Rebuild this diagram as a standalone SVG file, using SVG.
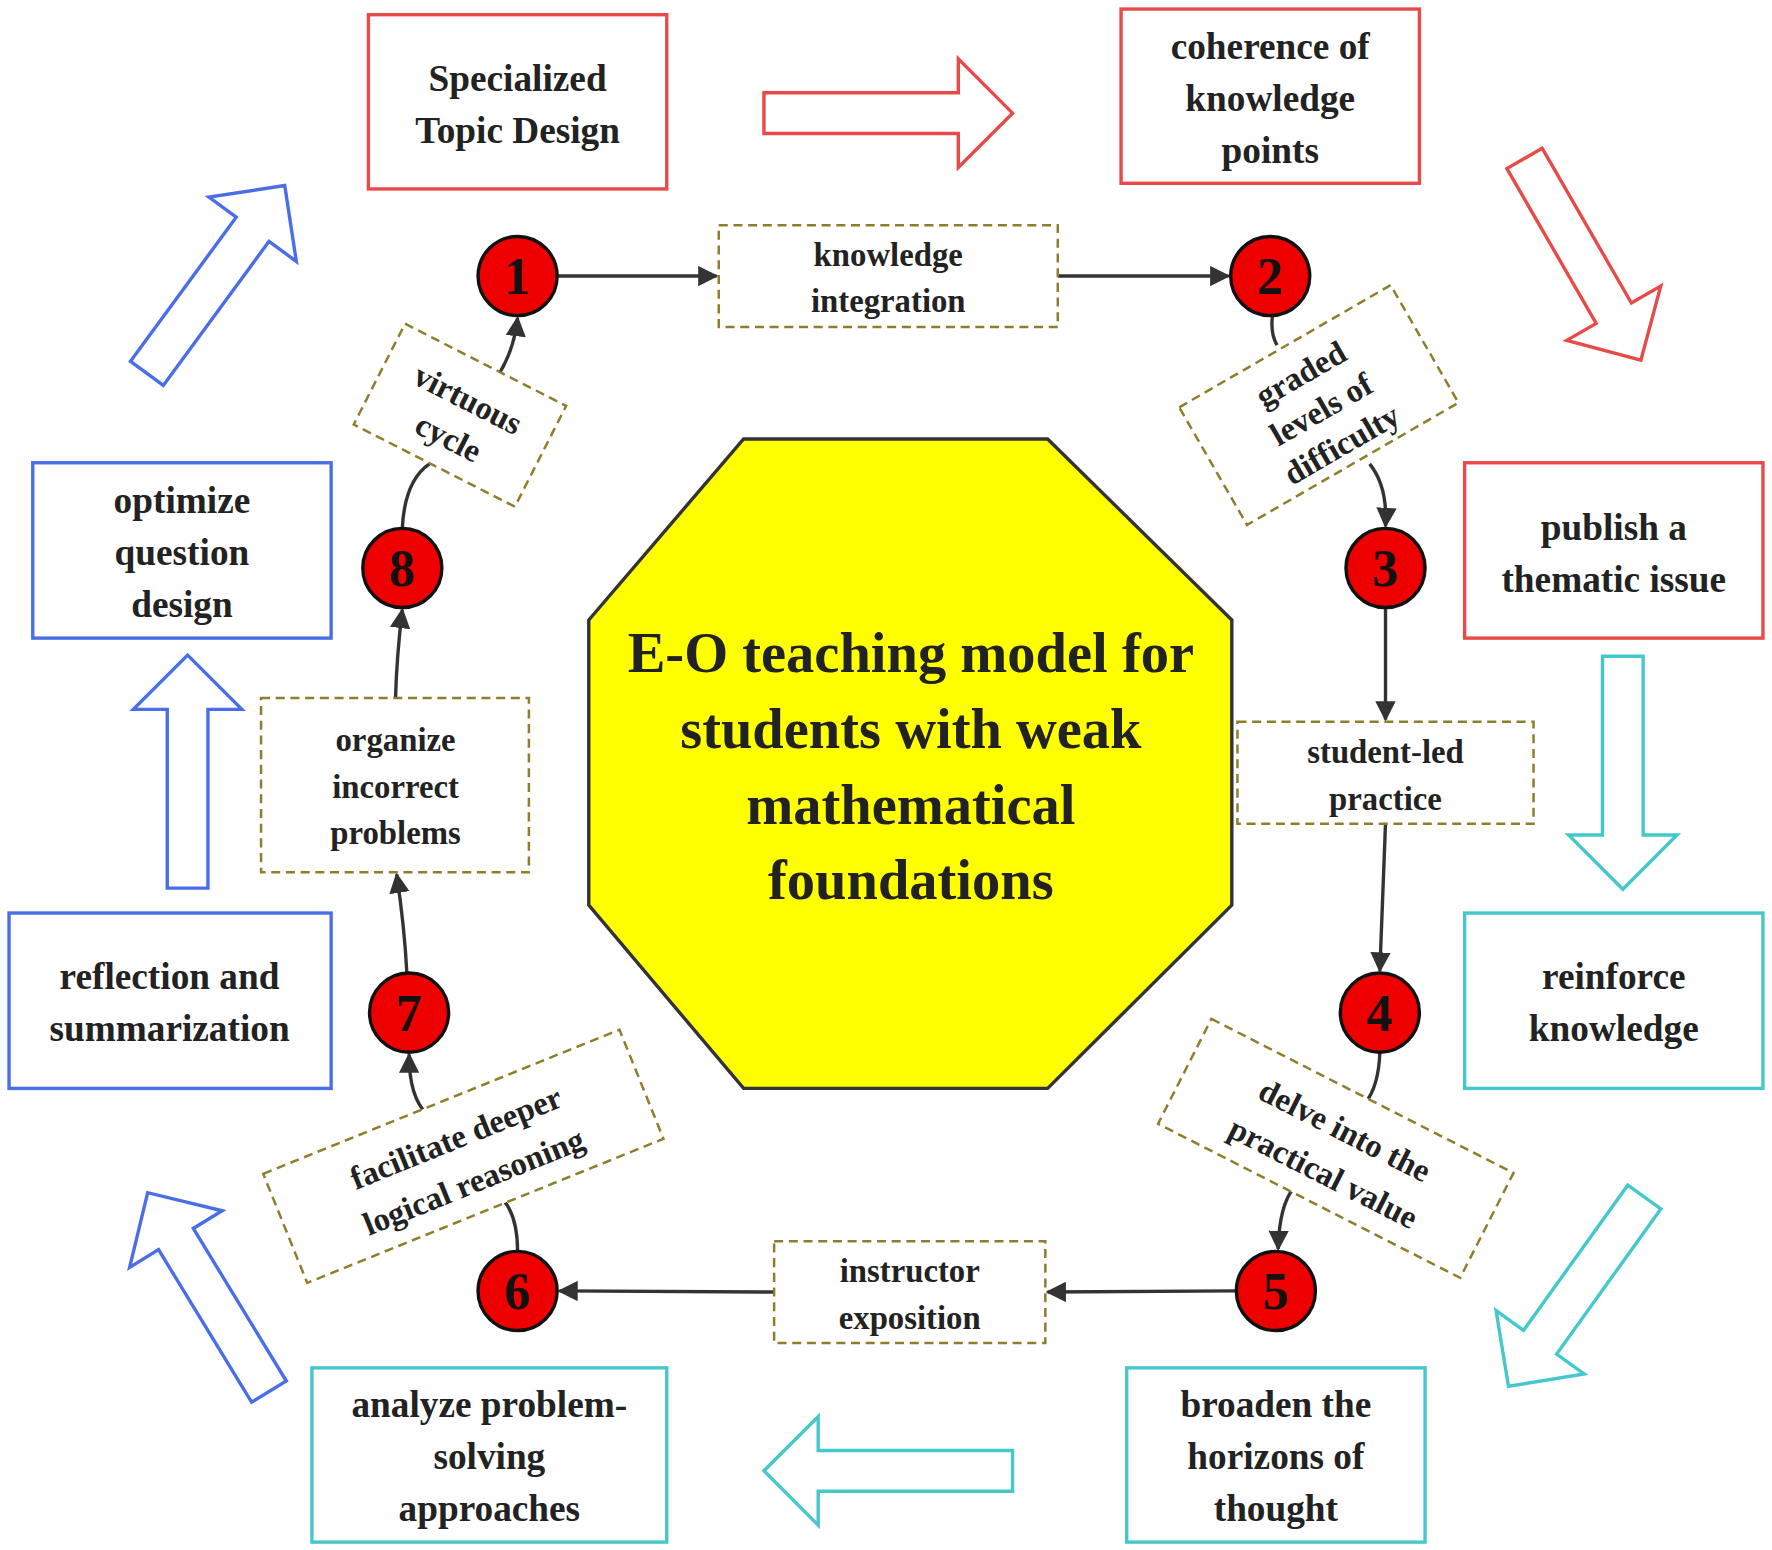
<svg xmlns="http://www.w3.org/2000/svg" width="1772" height="1550" viewBox="0 0 1772 1550">
<style>
text{font-family:"Liberation Serif","Times New Roman",serif;font-weight:bold;fill:#222;text-anchor:middle}
.box{fill:#fff;stroke-width:3}
.red{stroke:#e84a4a}.teal{stroke:#45c8cc}.blue{stroke:#4a6ee8}
.bt{font-size:33px}
.dash{fill:#fff;stroke:#8d7e2c;stroke-width:2.2;stroke-dasharray:8 5}
.dt{font-size:29px}
.circ{fill:#ee0000;stroke:#111;stroke-width:3}
.num{font-size:46px;fill:#111}
.con{fill:none;stroke:#333;stroke-width:3}
.ba{fill:#fff;stroke-width:3}
</style>
<defs>
<marker id="ah" viewBox="0 0 10 10" refX="9" refY="5" markerWidth="6" markerHeight="6" orient="auto"><path d="M0,0 L10,5 L0,10 Z" fill="#333"/></marker>
<path id="bar" d="M0,-18 L172,-18 L172,-48 L220,0 L172,48 L172,18 L0,18 Z"/>
<path id="bar2" d="M0,-18 L158,-18 L158,-48 L206,0 L158,48 L158,18 L0,18 Z"/>
</defs>
<rect width="1772" height="1550" fill="#fff"/>
<g transform="scale(1.1301,1.1314)">
<g id="bigarrows">
<use href="#bar" transform="translate(676,100)" class="ba red"/>
<use href="#bar2" transform="translate(1349,140) rotate(60)" class="ba red"/>
<use href="#bar2" transform="translate(1436,580) rotate(90)" class="ba teal"/>
<use href="#bar2" transform="translate(1455,1058) rotate(125.7)" class="ba teal"/>
<use href="#bar" transform="translate(896,1300) rotate(180)" class="ba teal"/>
<use href="#bar2" transform="translate(238,1230) rotate(-121.4)" class="ba blue"/>
<use href="#bar2" transform="translate(166,785) rotate(-90)" class="ba blue"/>
<use href="#bar2" transform="translate(130,330) rotate(-53.7)" class="ba blue"/>
</g>
<g id="n-spec"><rect class="box red" x="326" y="13" width="264" height="154"/><text class="bt" x="458" y="80">Specialized</text><text class="bt" x="458" y="126">Topic Design</text></g>
<g id="n-coh"><rect class="box red" x="992" y="8" width="264" height="154"/><text class="bt" x="1124" y="52">coherence of</text><text class="bt" x="1124" y="98">knowledge</text><text class="bt" x="1124" y="144">points</text></g>
<g id="n-pub"><rect class="box red" x="1296" y="409" width="264" height="155"/><text class="bt" x="1428" y="477">publish a</text><text class="bt" x="1428" y="523">thematic issue</text></g>
<g id="n-rein"><rect class="box teal" x="1296" y="807" width="264" height="155"/><text class="bt" x="1428" y="874">reinforce</text><text class="bt" x="1428" y="920">knowledge</text></g>
<g id="n-broad"><rect class="box teal" x="997" y="1209" width="264" height="154"/><text class="bt" x="1129" y="1252">broaden the</text><text class="bt" x="1129" y="1298">horizons of</text><text class="bt" x="1129" y="1344">thought</text></g>
<g id="n-anal"><rect class="box teal" x="276" y="1209" width="314" height="154"/><text class="bt" x="433" y="1252">analyze problem-</text><text class="bt" x="433" y="1298">solving</text><text class="bt" x="433" y="1344">approaches</text></g>
<g id="n-refl"><rect class="box blue" x="8" y="807" width="285" height="155"/><text class="bt" x="150" y="874">reflection and</text><text class="bt" x="150" y="920">summarization</text></g>
<g id="n-opt"><rect class="box blue" x="29" y="409" width="264" height="155"/><text class="bt" x="161" y="453">optimize</text><text class="bt" x="161" y="499">question</text><text class="bt" x="161" y="545">design</text></g>
<g id="center"><polygon points="521,548 658,388 927,388 1090,548 1090,800 927,962 658,962 521,800" fill="#ffff00" stroke="#333" stroke-width="3"/>
<text x="806" y="594" font-size="50">E-O teaching model for</text><text x="806" y="661" font-size="50">students with weak</text><text x="806" y="728" font-size="50">mathematical</text><text x="806" y="795" font-size="50">foundations</text></g>
<g id="connectors">
<path class="con" d="M493,244 L634,244" marker-end="url(#ah)"/>
<path class="con" d="M936,244 L1087,244" marker-end="url(#ah)"/>
<path class="con" d="M1126,279 Q1124,295 1130,305"/>
<path class="con" d="M1212,410 Q1228,430 1226,465" marker-end="url(#ah)"/>
<path class="con" d="M1226,537 L1226,636" marker-end="url(#ah)"/>
<path class="con" d="M1226,728 L1221,858" marker-end="url(#ah)"/>
<path class="con" d="M1221,930 Q1220,960 1208,975"/>
<path class="con" d="M1145,1050 Q1132,1065 1131,1104" marker-end="url(#ah)"/>
<path class="con" d="M1094,1141 L927,1142" marker-end="url(#ah)"/>
<path class="con" d="M685,1142 L495,1141" marker-end="url(#ah)"/>
<path class="con" d="M458,1106 Q458,1075 445,1060"/>
<path class="con" d="M378,985 Q362,970 362,932" marker-end="url(#ah)"/>
<path class="con" d="M360,860 Q358,820 351,773" marker-end="url(#ah)"/>
<path class="con" d="M350,617 Q351,580 356,539" marker-end="url(#ah)"/>
<path class="con" d="M356,467 Q358,425 380,410"/>
<path class="con" d="M440,333 Q455,310 458,281" marker-end="url(#ah)"/>
</g>
<g id="l-ki"><rect class="dash" x="636" y="199" width="300" height="90"/><text class="dt" x="786" y="235">knowledge</text><text class="dt" x="786" y="276">integration</text></g>
<g id="l-gr" transform="translate(1167,358) rotate(-30)"><rect class="dash" x="-108" y="-60" width="216" height="120"/><text class="dt" x="0" y="-22">graded</text><text class="dt" x="0" y="14">levels of</text><text class="dt" x="0" y="50">difficulty</text></g>
<g id="l-sl"><rect class="dash" x="1095" y="638" width="262" height="90"/><text class="dt" x="1226" y="674">student-led</text><text class="dt" x="1226" y="716">practice</text></g>
<g id="l-dv" transform="translate(1182,1015) rotate(27)"><rect class="dash" x="-150" y="-52" width="300" height="104"/><text class="dt" x="0" y="-8">delve into the</text><text class="dt" x="0" y="34">practical value</text></g>
<g id="l-ie"><rect class="dash" x="685" y="1097" width="240" height="90"/><text class="dt" x="805" y="1133">instructor</text><text class="dt" x="805" y="1175">exposition</text></g>
<g id="l-fd" transform="translate(410,1022) rotate(-22)"><rect class="dash" x="-170" y="-52" width="340" height="104"/><text class="dt" x="0" y="-8">facilitate deeper</text><text class="dt" x="0" y="34">logical reasoning</text></g>
<g id="l-oi"><rect class="dash" x="231" y="617" width="237" height="154"/><text class="dt" x="350" y="664">organize</text><text class="dt" x="350" y="705">incorrect</text><text class="dt" x="350" y="746">problems</text></g>
<g id="l-vc" transform="translate(407,367) rotate(27)"><rect class="dash" x="-80" y="-50" width="160" height="100"/><text class="dt" x="0" y="-6">virtuous</text><text class="dt" x="0" y="32">cycle</text></g>
<g id="c1"><circle class="circ" cx="458" cy="244" r="35"/><text class="num" x="458" y="260">1</text></g>
<g id="c2"><circle class="circ" cx="1124" cy="244" r="35"/><text class="num" x="1124" y="260">2</text></g>
<g id="c3"><circle class="circ" cx="1226" cy="502" r="35"/><text class="num" x="1226" y="518">3</text></g>
<g id="c4"><circle class="circ" cx="1221" cy="895" r="35"/><text class="num" x="1221" y="911">4</text></g>
<g id="c5"><circle class="circ" cx="1129" cy="1141" r="35"/><text class="num" x="1129" y="1157">5</text></g>
<g id="c6"><circle class="circ" cx="458" cy="1141" r="35"/><text class="num" x="458" y="1157">6</text></g>
<g id="c7"><circle class="circ" cx="362" cy="895" r="35"/><text class="num" x="362" y="911">7</text></g>
<g id="c8"><circle class="circ" cx="356" cy="502" r="35"/><text class="num" x="356" y="518">8</text></g>
</g>
</svg>
